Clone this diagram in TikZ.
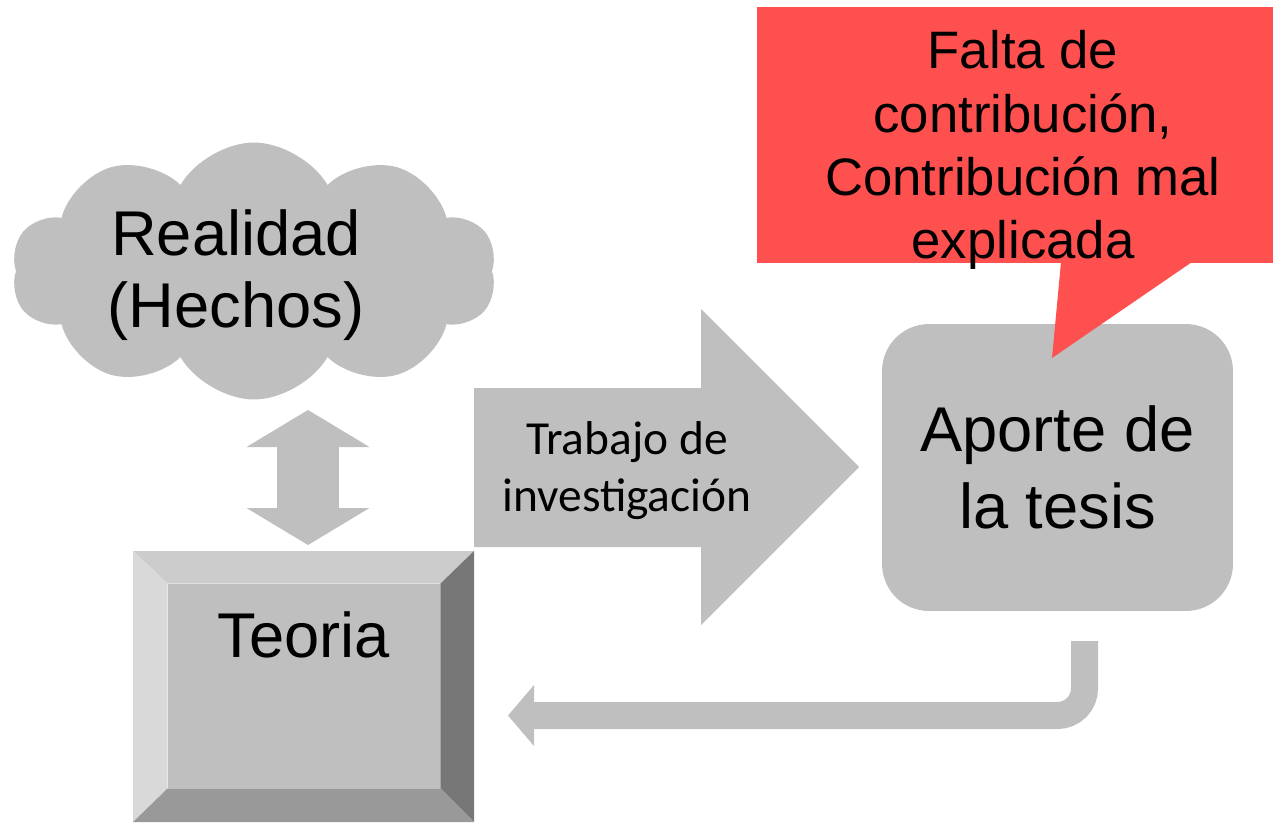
\documentclass[tikz,border=0pt]{standalone}
\usepackage{fontspec}
\setmainfont{Liberation Sans}
\newfontfamily\calibri{Carlito}
\usepackage{tikz}
\usetikzlibrary{arrows.meta, positioning, shapes.symbols}

\definecolor{shapegray}{HTML}{BFBFBF}
\definecolor{calloutred}{HTML}{FF5050}
\definecolor{bevtop}{HTML}{CCCCCC}
\definecolor{bevleft}{HTML}{D9D9D9}
\definecolor{bevright}{HTML}{777777}
\definecolor{bevbottom}{HTML}{999999}

\tikzset{
  bigtext/.style={font=\fontsize{36}{43.5}\selectfont, align=center},
  graybox/.style={fill=shapegray, inner sep=0pt},
  grayarrow/.style={draw=shapegray, line cap=butt}
}

\begin{document}
\begin{tikzpicture}[x=0.02cm, y=-0.02cm]
                \useasboundingbox (0,0) rectangle (1273,822);

                % Cloud and its text
                \node[graybox, cloud, cloud puffs=10, cloud puff arc=120, cloud ignores aspect,
                      minimum width=9.7cm, minimum height=5.14cm] (realidad) at (254,271) {};
                \node[bigtext, font=\fontsize{36}{41}\selectfont] (realidadtxt) at (236,275) {Realidad\\(Hechos)};

                % Bevelled box
                \node[graybox, minimum width=5.44cm, minimum height=4.08cm] (teoria) at (304,686) {};
                \coordinate (teoNW) at (133,551);
                \coordinate (teoNE) at (474,551);
                \coordinate (teoSE) at (474,822);
                \coordinate (teoSW) at (133,822);
                \fill[bevtop] (teoNW) -- (teoNE) -- (teoria.north east) -- (teoria.north west) -- cycle;
                \fill[bevleft] (teoNW) -- (teoria.north west) -- (teoria.south west) -- (teoSW) -- cycle;
                \fill[bevright] (teoNE) -- (teoSE) -- (teoria.south east) -- (teoria.north east) -- cycle;
                \fill[bevbottom] (teoSW) -- (teoria.south west) -- (teoria.south east) -- (teoSE) -- cycle;
                \node[bigtext, anchor=base] (teorialbl) at (304,657) {Teoria};

                % Double arrow between cloud and box
                \coordinate (realidadend) at (308,410);
                \coordinate (teoriaend) at (308,545);
                \draw[grayarrow, line width=1.26cm,
                      {Triangle[length=0.74cm, width=2.46cm, line width=0pt]}-{Triangle[length=0.74cm, width=2.46cm, line width=0pt]}]
                      (realidadend) -- (teoriaend);

                % Block arrow
                \fill[shapegray] (474,388) -- (701,388) -- (701,309) -- (859,467)
                      -- (701,625) -- (701,547) -- (474,547) -- cycle;
                \node[font=\calibri\fontsize{27}{32.4}\selectfont, align=center] (trabajo) at (627,471) {Trabajo de\\investigación};

                % Rounded box
                \node[graybox, rounded corners=0.94cm, minimum width=7.02cm, minimum height=5.74cm,
                      bigtext, font=\fontsize{36}{43.7}\selectfont] (aporte) at (1057.5,467.5) {Aporte de\\la tesis};

                % Return arrow
                \coordinate (aporteend) at (1084.5,641);
                \coordinate (teoriaback) at (508,715.5);
                \draw[grayarrow, line width=0.54cm, rounded corners=0.54cm,
                      -{Triangle[length=0.52cm, width=1.22cm, line width=0pt]}]
                      (aporteend) |- (teoriaback);

                % Callout
                \fill[calloutred] (757,7) rectangle (1273,263);
                \fill[calloutred] (1061,262) -- (1052,358) -- (1192,262) -- cycle;
                \node[align=center, font=\fontsize{30}{36}\selectfont] (falta) at (1023,150)
                      {Falta de\\contribución,\\Contribución mal\\explicada};
            \end{tikzpicture}
\end{document}
